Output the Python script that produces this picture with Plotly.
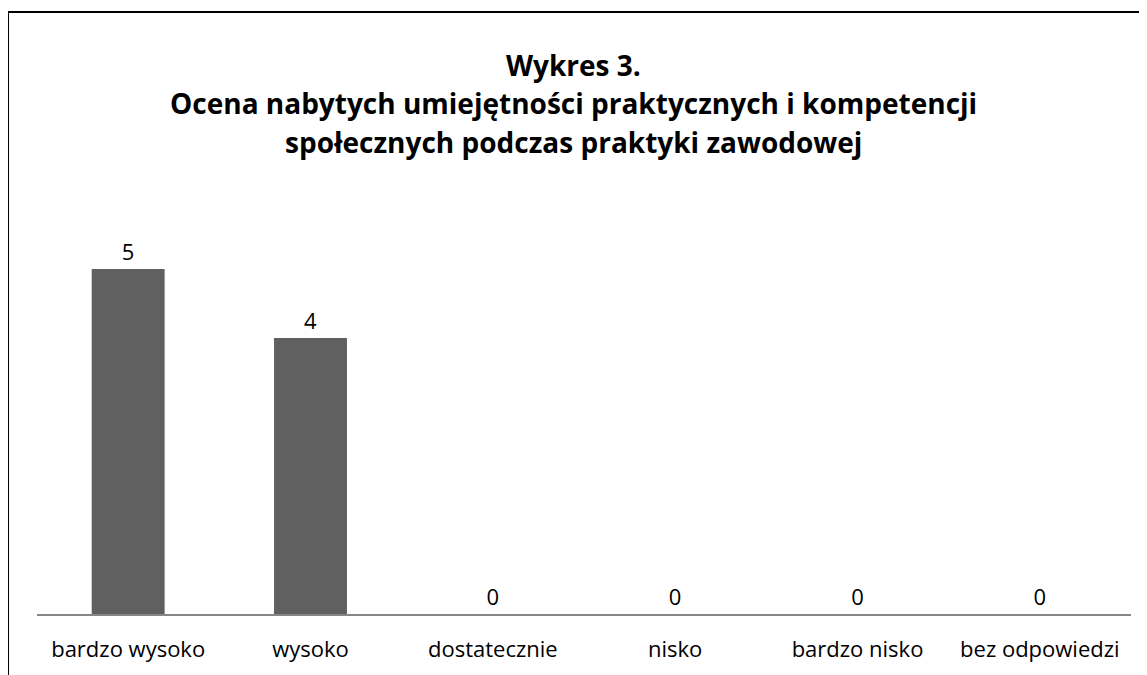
import plotly.graph_objects as go

categories = ['bardzo wysoko', 'wysoko', 'dostatecznie', 'nisko', 'bardzo nisko', 'bez odpowiedzi']
values = [5, 4, 0, 0, 0, 0]

title_lines = [
    'Wykres 3.',
    'Ocena nabytych umiejętności praktycznych i kompetencji',
    'społecznych podczas praktyki zawodowej',
]

FONT = 'Open Sans'

# page body has an 8px margin, so everything below is in figure pixels
L, R, T, B = 29, 1123, 192, 608
W, H = 1139, 667

fig = go.Figure(go.Bar(
    x=categories,
    y=values,
    marker=dict(color='#606060', line=dict(width=0)),
    text=values,
    textposition='outside',
    textfont=dict(family=FONT, size=22, color='#000000'),
    cliponaxis=False,
    hoverinfo='skip',
))

# title, one annotation per line so the spacing matches
for i, line in enumerate(title_lines):
    fig.add_annotation(
        text='<b>' + line + '</b>',
        xref='paper', yref='paper',
        x=(565 - L) / (R - L), y=(B - (56.5 + 38.5 * i)) / (B - T),
        xanchor='center', yanchor='middle',
        showarrow=False,
        font=dict(family=FONT, size=28, color='#000000'),
    )

# outer frame (right and bottom edges run off the picture)
fig.add_shape(
    type='rect', xref='paper', yref='paper',
    x0=(0 - L) / (R - L), x1=(1200 - L) / (R - L),
    y0=-0.3, y1=(B - 3) / (B - T),
    line=dict(color='#000000', width=2),
)

fig.update_layout(
    width=W, height=H,
    margin=dict(l=L, r=W - R, t=T, b=H - B),
    paper_bgcolor='white', plot_bgcolor='white',
    showlegend=False,
    bargap=0.6,
    font=dict(family=FONT, size=22, color='#000000'),
)
fig.update_xaxes(
    showline=True, linecolor='#868686', linewidth=2,
    ticks='', tickfont=dict(family=FONT, size=22, color='#000000'),
    ticklabelstandoff=15,
)
fig.update_yaxes(range=[0, 6], visible=False, showgrid=False)

fig.write_html('out.html')
